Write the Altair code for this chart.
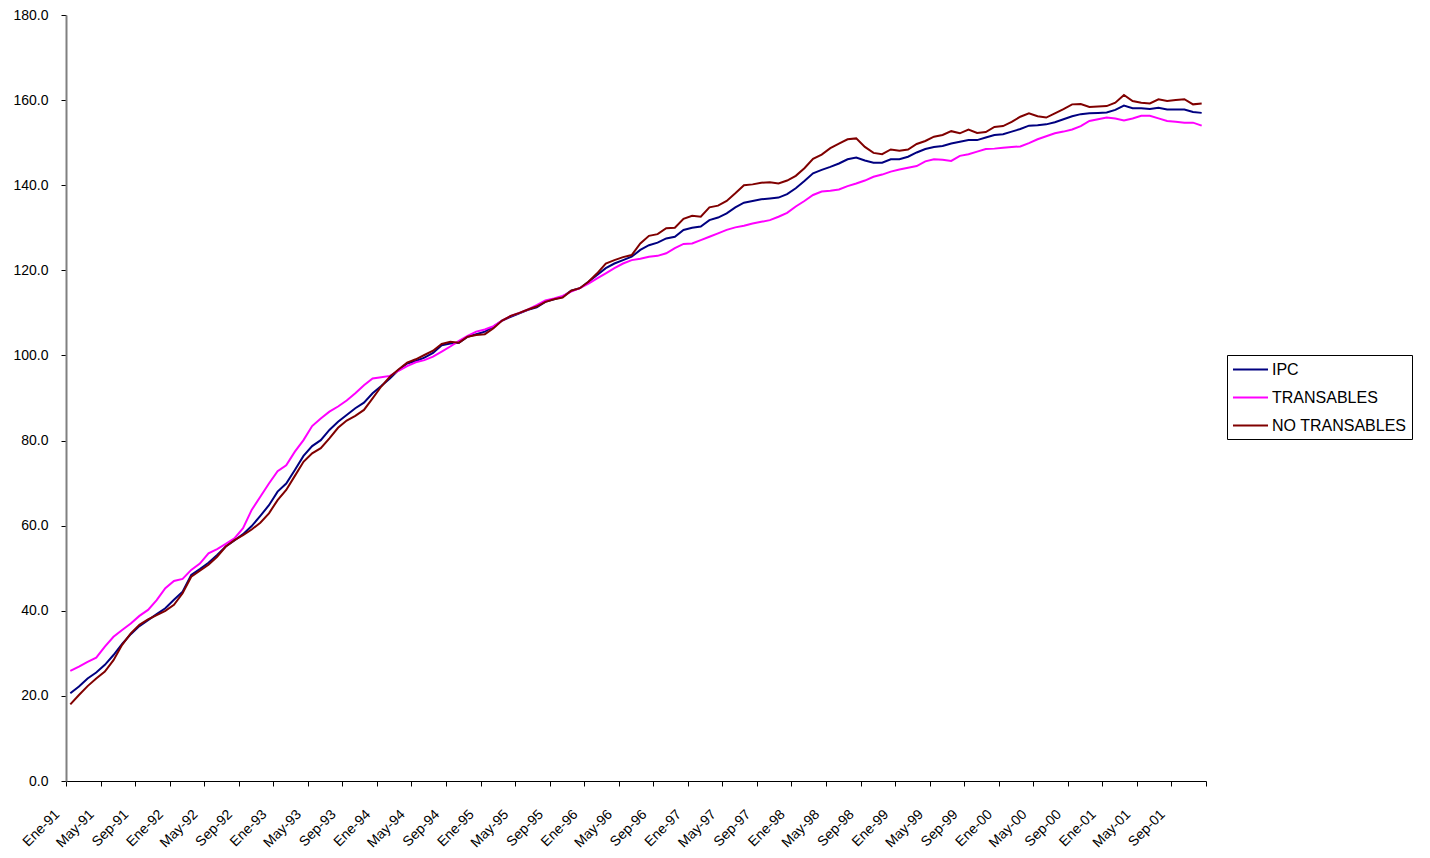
import altair as alt
import pandas as pd

month_names = ["Ene", "Feb", "Mar", "Abr", "May", "Jun", "Jul", "Ago", "Sep", "Oct", "Nov", "Dic"]
years = ["91", "92", "93", "94", "95", "96", "97", "98", "99", "00", "01"]
months = [f"{m}-{y}" for y in years for m in month_names]

ipc = [20.6, 22.2, 24.1, 25.5, 27.3, 29.6, 32.2, 34.5, 36.4, 37.8, 39.2, 40.6,
       42.6, 44.5, 48.4, 49.8, 51.3, 53.1, 55.1, 56.5, 58.0, 59.9, 62.3, 64.8,
       68.0, 69.9, 73.1, 76.4, 78.7, 80.1, 82.5, 84.4, 86.0, 87.6, 88.9, 91.1,
       92.8, 94.6, 96.6, 98.1, 98.7, 99.5, 100.6, 102.4, 102.8, 103.0, 104.4, 105.0,
       105.6, 106.8, 108.2, 109.1, 109.9, 110.7, 111.3, 112.6, 113.2, 113.8, 115.2, 115.8,
       117.3, 118.9, 120.5, 121.6, 122.4, 123.2, 124.8, 125.9, 126.5, 127.5, 127.9, 129.5,
       130.0, 130.3, 131.8, 132.4, 133.4, 134.8, 135.9, 136.3, 136.7, 136.9, 137.1, 137.9,
       139.3, 141.0, 142.8, 143.6, 144.3, 145.1, 146.1, 146.5, 145.8, 145.3, 145.3, 146.1,
       146.1, 146.7, 147.7, 148.5, 149.0, 149.2, 149.8, 150.2, 150.6, 150.6, 151.2, 151.8,
       152.0, 152.6, 153.2, 154.0, 154.1, 154.3, 154.8, 155.5, 156.2, 156.7, 156.9, 157.0,
       157.1, 157.7, 158.7, 158.1, 158.1, 157.9, 158.2, 157.8, 157.8, 157.8, 157.2, 157.0]

transables = [25.9, 26.9, 28.0, 29.0, 31.6, 33.9, 35.5, 37.0, 38.8, 40.2, 42.5, 45.3,
              47.0, 47.5, 49.6, 51.1, 53.5, 54.5, 55.7, 57.0, 59.4, 63.7, 66.8, 69.9,
              72.8, 74.2, 77.4, 80.1, 83.4, 85.2, 86.8, 88.0, 89.4, 91.1, 93.0, 94.6,
              94.9, 95.2, 96.4, 97.5, 98.4, 98.9, 99.7, 100.9, 102.1, 103.4, 104.6, 105.6,
              106.1, 106.9, 108.2, 109.3, 110.0, 110.8, 111.8, 112.9, 113.4, 114.0, 115.0, 115.8,
              116.9, 118.1, 119.3, 120.5, 121.6, 122.4, 122.7, 123.2, 123.4, 124.0, 125.2, 126.2,
              126.3, 127.1, 127.9, 128.7, 129.5, 130.1, 130.5, 131.0, 131.4, 131.8, 132.6, 133.5,
              135.0, 136.3, 137.7, 138.5, 138.7, 139.0, 139.8, 140.4, 141.1, 142.0, 142.5, 143.2,
              143.7, 144.1, 144.5, 145.6, 146.1, 146.0, 145.7, 146.9, 147.3, 147.9, 148.5, 148.6,
              148.8, 149.0, 149.1, 149.9, 150.8, 151.5, 152.2, 152.6, 153.1, 153.9, 155.1, 155.5,
              155.9, 155.7, 155.2, 155.7, 156.3, 156.3, 155.7, 155.1, 154.9, 154.7, 154.7, 154.0]

no_transables = [18.0, 20.2, 22.3, 24.1, 25.7, 28.4, 32.0, 34.7, 36.7, 38.0, 39.0, 40.0,
                 41.4, 44.1, 48.0, 49.4, 50.8, 52.7, 55.1, 56.6, 57.8, 59.1, 60.7, 62.9,
                 66.0, 68.4, 71.7, 75.0, 77.0, 78.2, 80.5, 83.0, 84.7, 85.8, 87.2, 89.9,
                 92.7, 95.0, 96.7, 98.3, 99.1, 100.1, 101.1, 102.7, 103.2, 103.0, 104.4, 104.8,
                 105.0, 106.4, 108.2, 109.3, 110.0, 110.8, 111.5, 112.6, 113.2, 113.6, 115.2, 115.8,
                 117.3, 119.3, 121.6, 122.4, 123.1, 123.6, 126.3, 128.1, 128.5, 129.9, 130.0, 132.1,
                 132.8, 132.6, 134.8, 135.2, 136.3, 138.1, 140.0, 140.2, 140.6, 140.7, 140.4, 141.1,
                 142.2, 144.0, 146.2, 147.2, 148.7, 149.8, 150.8, 151.0, 149.0, 147.6, 147.3, 148.4,
                 148.1, 148.4, 149.7, 150.4, 151.4, 151.8, 152.7, 152.2, 153.1, 152.3, 152.5, 153.7,
                 153.9, 154.9, 156.1, 156.9, 156.2, 155.9, 156.9, 157.9, 159.0, 159.1, 158.4, 158.5,
                 158.6, 159.4, 161.2, 159.8, 159.4, 159.2, 160.2, 159.8, 160.0, 160.2, 159.0, 159.2]

series_names = ["IPC", "TRANSABLES", "NO TRANSABLES"]
series_colors = ["#000080", "#FF00FF", "#800000"]
tick_labels = months[::4]
y_ticks = [0, 20, 40, 60, 80, 100, 120, 140, 160, 180]

rows = []
for k, (name, vals) in enumerate(zip(series_names, [ipc, transables, no_transables])):
    for i, (m, v) in enumerate(zip(months, vals)):
        rows.append({"idx": i, "mes": m, "serie": name, "orden": k, "valor": v})
df = pd.DataFrame(rows)

n = len(months)
tick_vals = [4 * k - 0.5 for k in range(len(tick_labels) + 1)]
label_expr = ("[" + ",".join(f"'{t}'" for t in tick_labels) +
              "][round((datum.value + 0.5) / 4)] || ''")

FONT = "Liberation Sans"

chart = alt.Chart(df).mark_line(strokeWidth=2).encode(
    x=alt.X("idx:Q",
            scale=alt.Scale(domain=[-0.5, n - 0.5], nice=False, zero=False),
            axis=alt.Axis(values=tick_vals, labelExpr=label_expr, labelAngle=-45,
                          labelAlign="right", labelBaseline="top", labelPadding=21,
                          labelOffset=-14,
                          labelOverlap=False, labelFontSize=14, labelFont=FONT,
                          labelColor="black", title=None, grid=False,
                          domainColor="black", domainWidth=1, tickColor="black",
                          tickSize=5, tickWidth=1)),
    y=alt.Y("valor:Q",
            scale=alt.Scale(domain=[0, 180], nice=False, zero=True),
            axis=alt.Axis(values=y_ticks, format=".1f", labelFontSize=14, labelFont=FONT,
                          labelColor="black", labelPadding=13, title=None, grid=False,
                          domainColor="#808080", domainWidth=2, tickColor="black",
                          tickSize=5, tickWidth=1)),
    color=alt.Color("serie:N",
                    scale=alt.Scale(domain=series_names, range=series_colors),
                    legend=alt.Legend(title=None, orient="none", legendX=1161, legendY=340,
                                      strokeColor="black", fillColor="white", padding=5,
                                      labelFontSize=16, labelFont=FONT, labelColor="black",
                                      symbolType="M-2.06,0H2.06", symbolStrokeWidth=2,
                                      symbolSize=289, symbolOffset=9, labelOffset=12,
                                      rowPadding=10)),
    order=alt.Order("idx:Q"),
).properties(
    width=1140, height=766,
    autosize=alt.AutoSizeParams(type="none"),
    padding={"left": 58, "top": 7, "right": 216, "bottom": 69},
).configure_view(stroke=None)

chart.save("out.html", embed_options={"renderer": "svg", "actions": False})
